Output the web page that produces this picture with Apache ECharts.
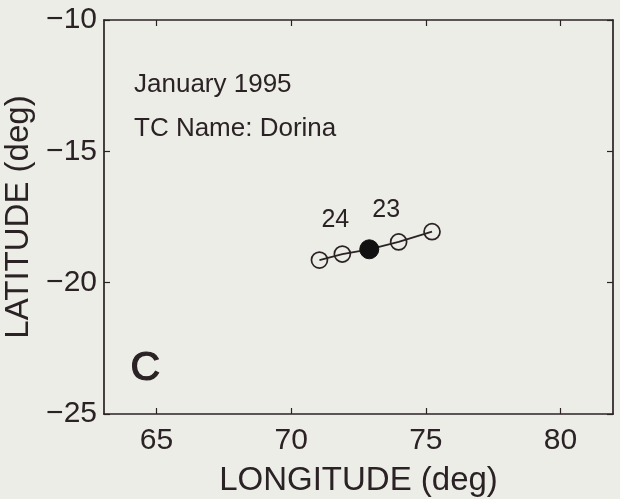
<!DOCTYPE html>
<html>
<head>
<meta charset="utf-8">
<script src="https://cdn.jsdelivr.net/npm/echarts@6/dist/echarts.min.js"></script>
<style>
html,body{margin:0;padding:0;background:#ecede6;}
#c{width:620px;height:499px;}
</style>
</head>
<body>
<div id="c"></div>
<script>
// Track data
const trackLon = [71.05, 71.9, 72.9, 73.99, 75.23];
const trackLat = [-19.14, -18.91, -18.73, -18.45, -18.06];
const filledIndex = 2;
// Day labels
const dayLabels = ['24', '23'];
const dayLabelLon = [71.64, 73.53];
const dayLabelLat = [-17.6, -17.23];
// Axes
const xTicks = [65, 70, 75, 80];
const yTicks = [-25, -20, -15, -10];
const xRange = [63.05, 81.95];
const yRange = [-25, -10];
// Annotations
const titleLine1 = 'January 1995';
const titleLine2 = 'TC Name: Dorina';
const panelLetter = 'C';

const ink = '#2b2226';
const font = 'Liberation Sans, Arial, Helvetica, sans-serif';
const fmt = v => String(v).replace('-', '\u2212');

const chart = echarts.init(document.getElementById('c'), null, {renderer: 'canvas'});

const openPts = trackLon.map((x, i) => [x, trackLat[i]]).filter((_, i) => i !== filledIndex);
const filledPts = [[trackLon[filledIndex], trackLat[filledIndex]]];
const labelPts = dayLabels.map((t, i) => ({value: [dayLabelLon[i], dayLabelLat[i]], name: t}));

const tick = {show: true, inside: true, length: 6, lineStyle: {color: ink, width: 1.2}};
const line = {show: true, lineStyle: {color: ink, width: 1.7}};

chart.setOption({
  backgroundColor: '#ecede6',
  animation: false,
  grid: {left: 104, top: 20, right: 7, bottom: 85, containLabel: false, outerBoundsMode: 'none'},
  xAxis: [
    {
      type: 'value', position: 'bottom', min: xRange[0], max: xRange[1],
      name: 'LONGITUDE (deg)', nameLocation: 'middle', nameGap: 50,
      nameTextStyle: {fontFamily: font, fontSize: 33, color: ink},
      axisLabel: {customValues: xTicks, fontFamily: font, fontSize: 30, color: ink, margin: 12, formatter: fmt},
      axisLine: line, axisTick: Object.assign({customValues: xTicks}, tick), splitLine: {show: false}
    },
    {
      type: 'value', position: 'top', min: xRange[0], max: xRange[1],
      axisLabel: {show: false},
      axisLine: line, axisTick: Object.assign({customValues: xTicks}, tick), splitLine: {show: false}
    }
  ],
  yAxis: [
    {
      type: 'value', position: 'left', min: yRange[0], max: yRange[1],
      name: 'LATITUDE (deg)', nameLocation: 'middle', nameGap: 66, nameRotate: 90,
      nameTextStyle: {fontFamily: font, fontSize: 33, color: ink},
      axisLabel: {customValues: yTicks, fontFamily: font, fontSize: 30, color: ink, margin: 7, formatter: fmt},
      axisLine: line, axisTick: Object.assign({customValues: yTicks}, tick), splitLine: {show: false}
    },
    {
      type: 'value', position: 'right', min: yRange[0], max: yRange[1],
      axisLabel: {show: false},
      axisLine: line, axisTick: Object.assign({customValues: yTicks}, tick), splitLine: {show: false}
    }
  ],
  series: [
    {
      type: 'line',
      data: trackLon.map((x, i) => [x, trackLat[i]]),
      showSymbol: false,
      lineStyle: {color: ink, width: 1.8},
      z: 2
    },
    {
      type: 'scatter',
      data: openPts,
      symbol: 'circle', symbolSize: 16,
      itemStyle: {color: 'rgba(0,0,0,0)', borderColor: ink, borderWidth: 1.7, opacity: 1},
      z: 3
    },
    {
      type: 'scatter',
      data: filledPts,
      symbol: 'circle', symbolSize: 19,
      itemStyle: {color: '#111', borderColor: '#111', borderWidth: 1, opacity: 1},
      z: 4
    },
    {
      type: 'scatter',
      data: labelPts,
      symbolSize: 1,
      itemStyle: {opacity: 0},
      label: {show: true, position: 'inside', formatter: p => p.name,
              fontFamily: font, fontSize: 25, color: ink, opacity: 1},
      z: 5
    }
  ],
  graphic: [
    {type: 'text', left: 134, top: 72, style: {text: titleLine1, font: '26px ' + font, fill: ink}},
    {type: 'text', left: 134, top: 116, style: {text: titleLine2, font: '26px ' + font, fill: ink}},
    {type: 'text', left: 130, top: 348, style: {text: panelLetter, font: '41px "Liberation Sans Narrow", ' + font, fill: ink, stroke: ink, lineWidth: 1.2}}
  ]
});
</script>
</body>
</html>
